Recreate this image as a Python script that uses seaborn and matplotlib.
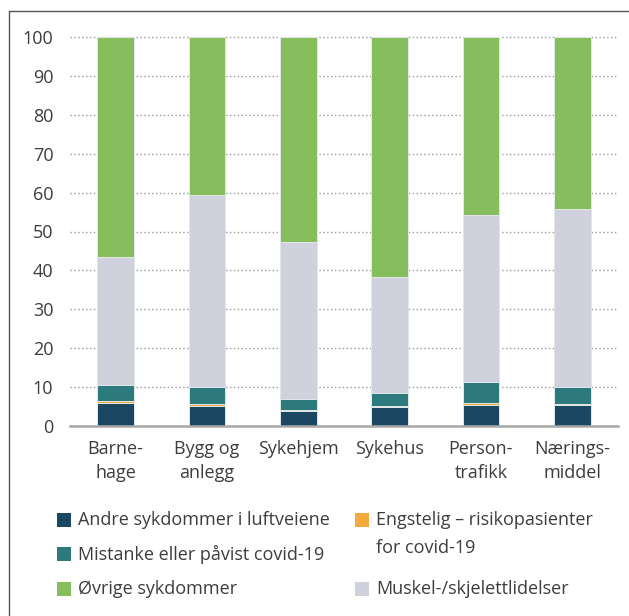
import matplotlib
matplotlib.use("Agg")
import matplotlib.pyplot as plt
from matplotlib.patches import Rectangle
from matplotlib.lines import Line2D
import numpy as np
import pandas as pd
import seaborn as sns

# Sykefravær etter næring, andel per diagnosegruppe (prosent)
categories = ["Barne-\nhage", "Bygg og\nanlegg", "Sykehjem", "Sykehus", "Person-\ntrafikk", "Nærings-\nmiddel"]
andre_luftveier = [5.9, 5.2, 3.9, 4.9, 5.4, 5.3]
engstelig = [0.5, 0.5, 0.3, 0.3, 0.5, 0.4]
covid = [4.1, 4.2, 2.7, 3.3, 5.4, 4.2]
muskel = [32.9, 49.6, 40.5, 29.8, 42.9, 45.8]
ovrige = [56.6, 40.5, 52.6, 61.7, 45.8, 44.3]
yticks = list(range(0, 101, 10))

series = [
    ("Andre sykdommer i luftveiene", andre_luftveier, "#1b4763"),
    ("Engstelig – risikopasienter\nfor covid-19", engstelig, "#f0ab3c"),
    ("Mistanke eller påvist covid-19", covid, "#2d7a7d"),
    ("Muskel-/skjelettlidelser", muskel, "#cfd1dc"),
    ("Øvrige sykdommer", ovrige, "#86bd5d"),
]

sns.set_theme(style="white")
plt.rcParams["font.family"] = ["Open Sans", "DejaVu Sans"]
text_color = "#3d3d3d"
fs = 13

W, H = 629, 616
fig = plt.figure(figsize=(W / 100, H / 100), dpi=100)
ymax = 100.5
ax_left, ax_right = 70 / W, 618 / W
ax_bottom = (H - 426) / H
ax_top = (H - (426 - ymax * 3.89)) / H
ax = fig.add_axes([ax_left, ax_bottom, ax_right - ax_left, ax_top - ax_bottom])

# Cumulative stacks drawn from the tallest down so each layer sits on top of the next
df = pd.DataFrame({"kategori": categories})
cum = np.zeros(len(categories))
cums = []
for name, vals, color in series:
    cum = cum + np.array(vals)
    cums.append((name, cum.copy(), color))
for name, c, color in reversed(cums):
    df["v"] = c
    sns.barplot(data=df, x="kategori", y="v", color=color, width=0.4,
                edgecolor="#e4e7ea", linewidth=0.7, ax=ax, zorder=3, saturation=1)

ax.set_xlim(-0.5, 5.5)
ax.set_ylim(0, ymax)
ax.set_yticks(yticks)
ax.set_yticklabels([str(t) for t in yticks])
ax.set_xlabel("")
ax.set_ylabel("")
ax.yaxis.grid(True, color="#9a9a9a", linestyle=(0, (1, 1.8)), linewidth=1.0, zorder=0)
ax.xaxis.grid(False)
for s in ["left", "right", "top"]:
    ax.spines[s].set_visible(False)
ax.spines["bottom"].set_color("#a8a8a8")
ax.spines["bottom"].set_linewidth(1.8)
ax.spines["bottom"].set_zorder(4)
ax.tick_params(axis="y", length=0, pad=12, labelsize=fs, labelcolor=text_color)
ax.tick_params(axis="x", length=0, pad=10, labelsize=fs, labelcolor=text_color)
for lbl in ax.get_xticklabels():
    lbl.set_linespacing(1.45)
    lbl.set_va("top")

# Frame lines along the left and top edges
fig.add_artist(Line2D([9 / W, 9 / W], [0, (H - 11) / H], color="#555555", lw=1.0))
fig.add_artist(Line2D([9 / W, 1], [(H - 11) / H, (H - 11) / H], color="#555555", lw=1.0))

# Legend in two columns
legend_items = [
    (series[0], 57, 520),
    (series[2], 57, 554),
    (series[4], 57, 589),
    (series[1], 355, 520),
    (series[3], 355, 589),
]
sq = 14
for (name, _, color), x, y in legend_items:
    fig.add_artist(Rectangle((x / W, (H - y - sq / 2) / H), sq / W, sq / H,
                             facecolor=color, edgecolor="none", transform=fig.transFigure))
    if "\n" in name:
        fig.text((x + 21) / W, (H - y + 9) / H, name, fontsize=fs, color=text_color,
                 va="top", ha="left", linespacing=1.7)
    else:
        fig.text((x + 21) / W, (H - y) / H, name, fontsize=fs, color=text_color,
                 va="center", ha="left")

fig.savefig("out.png", dpi=100)
